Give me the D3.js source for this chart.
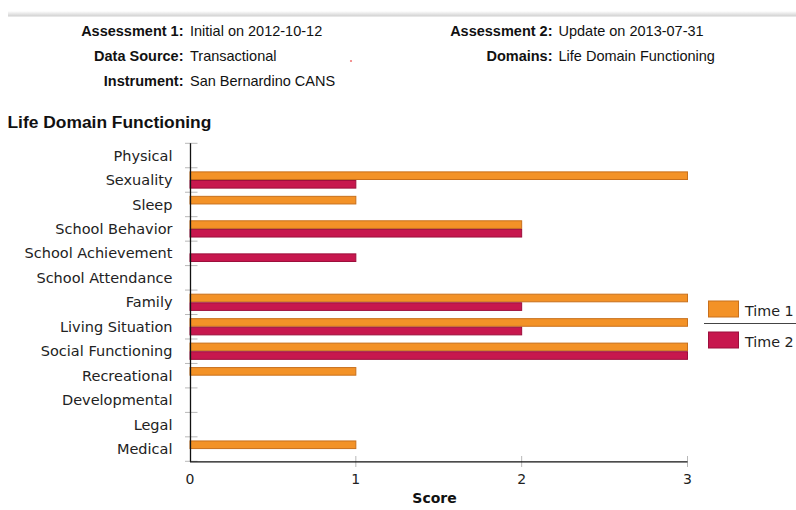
<!DOCTYPE html>
<html>
<head>
<meta charset="utf-8">
<script src="https://cdn.jsdelivr.net/npm/d3@7"></script>
<style>
  html, body { margin: 0; padding: 0; background: #fff; }
  svg { display: block; }
</style>
</head>
<body>
<svg id="chart" width="796" height="510"></svg>
<script>
// Life domain items, listed top to bottom
const categories = [
  "Physical", "Sexuality", "Sleep", "School Behavior", "School Achievement",
  "School Attendance", "Family", "Living Situation", "Social Functioning",
  "Recreational", "Developmental", "Legal", "Medical"
];
// Scores per assessment (null = no rating)
const time1 = [null, 3, 1, 2, null, null, 3, 3, 3, 1, null, null, 1];
const time2 = [null, 1, null, 2, 1, null, 2, 2, 3, null, null, null, null];
const seriesNames = ["Time 1", "Time 2"];
const xTicks = [0, 1, 2, 3];

// Header information
const headerLeft = [
  ["Assessment 1:", "Initial on 2012-10-12"],
  ["Data Source:", "Transactional"],
  ["Instrument:", "San Bernardino CANS"]
];
const headerRight = [
  ["Assessment 2:", "Update on 2013-07-31"],
  ["Domains:", "Life Domain Functioning"]
];
const chartTitle = "Life Domain Functioning";
const xTitle = "Score";

const fills = ["#f39227", "#c7174e"];
const strokes = ["#c8701c", "#9c0f3c"];

const svg = d3.select("#chart");
const arial = "'Liberation Sans', Arial, sans-serif";
const dejavu = "'DejaVu Sans', sans-serif";

// top shadow strip
const defs = svg.append("defs");
const grad = defs.append("linearGradient").attr("id", "topShade")
  .attr("x1", 0).attr("y1", 0).attr("x2", 0).attr("y2", 1);
grad.append("stop").attr("offset", "0%").attr("stop-color", "#ffffff");
grad.append("stop").attr("offset", "100%").attr("stop-color", "#cfcfcf");
svg.append("rect").attr("x", 8).attr("y", 11).attr("width", 788).attr("height", 5.5)
  .attr("fill", "url(#topShade)");

// header rows
const rowY = [36, 61, 86];
function header(rows, labelRight, valueLeft) {
  rows.forEach((r, i) => {
    svg.append("text").attr("x", labelRight).attr("y", rowY[i])
      .attr("text-anchor", "end").attr("font-family", arial)
      .attr("font-weight", "bold").attr("font-size", 14.5).attr("fill", "#111")
      .text(r[0]);
    svg.append("text").attr("x", valueLeft).attr("y", rowY[i])
      .attr("font-family", arial).attr("font-size", 14.5).attr("fill", "#111")
      .text(r[1]);
  });
}
header(headerLeft, 183.5, 190);
header(headerRight, 552.5, 558.5);
svg.append("circle").attr("cx", 351).attr("cy", 61).attr("r", 1.1).attr("fill", "#f07a7a");

// chart title
svg.append("text").attr("x", 7.5).attr("y", 127.5)
  .attr("font-family", arial).attr("font-weight", "bold").attr("font-size", 17.4)
  .attr("fill", "#111").text(chartTitle);

// scales
const plotTop = 143.3, plotBottom = 461.3, plotLeft = 190, plotRight = 687.5;
const x = d3.scaleLinear().domain([0, 3]).range([plotLeft, plotRight]);
const y = d3.scaleBand().domain(categories).range([plotTop, plotBottom]).padding(0);
const ySub = d3.scaleBand().domain(seriesNames).range([0, y.bandwidth()])
  .paddingInner(0).paddingOuter(0.42);

// y boundary ticks
const boundaries = categories.map(c => y(c)).concat([plotBottom]);
svg.append("g").selectAll("line").data(boundaries).join("line")
  .attr("x1", 185).attr("x2", 197.5)
  .attr("y1", d => d).attr("y2", d => d)
  .attr("stroke", "#b8b8b8").attr("stroke-width", 1);

// x ticks
svg.append("g").selectAll("line").data(xTicks.filter(d => d > 0)).join("line")
  .attr("x1", d => x(d)).attr("x2", d => x(d))
  .attr("y1", 456).attr("y2", 467)
  .attr("stroke", "#b8b8b8").attr("stroke-width", 1);

// bars
const seriesData = [time1, time2];
seriesData.forEach((vals, si) => {
  svg.append("g").selectAll("rect")
    .data(categories.map((c, i) => ({ c, v: vals[i] })).filter(d => d.v != null))
    .join("rect")
    .attr("x", x(0))
    .attr("y", d => y(d.c) + ySub(seriesNames[si]) + 0.5)
    .attr("width", d => x(d.v) - x(0))
    .attr("height", ySub.bandwidth() - 1)
    .attr("fill", fills[si])
    .attr("stroke", strokes[si]).attr("stroke-width", 1);
});

// axis lines
svg.append("line").attr("x1", plotLeft + 0.5).attr("x2", plotLeft + 0.5)
  .attr("y1", plotTop).attr("y2", plotBottom + 0.5).attr("stroke", "#111").attr("stroke-width", 1.3);
svg.append("line").attr("x1", plotLeft).attr("x2", plotRight)
  .attr("y1", plotBottom + 0.5).attr("y2", plotBottom + 0.5).attr("stroke", "#111").attr("stroke-width", 1.3);

// category labels
svg.append("g").selectAll("text").data(categories).join("text")
  .attr("x", 172.5)
  .attr("y", d => y(d) + y.bandwidth() / 2)
  .attr("dy", "0.35em")
  .attr("text-anchor", "end")
  .attr("font-family", dejavu).attr("font-size", 14.5).attr("fill", "#222")
  .text(d => d);

// x tick labels
svg.append("g").selectAll("text").data(xTicks).join("text")
  .attr("x", d => x(d)).attr("y", 483.5)
  .attr("text-anchor", "middle")
  .attr("font-family", dejavu).attr("font-size", 14).attr("fill", "#222")
  .text(d => d);

// x title
svg.append("text").attr("x", 434.5).attr("y", 502.5).attr("text-anchor", "middle")
  .attr("font-family", dejavu).attr("font-weight", "bold").attr("font-size", 14)
  .attr("fill", "#111").text(xTitle);

// legend
const lg = svg.append("g");
seriesNames.forEach((s, i) => {
  const yy = 301 + i * 31;
  lg.append("rect").attr("x", 708.5).attr("y", yy).attr("width", 30).attr("height", 16)
    .attr("fill", fills[i]).attr("stroke", strokes[i]).attr("stroke-width", 1);
  lg.append("text").attr("x", 745).attr("y", yy + 14.5)
    .attr("font-family", dejavu).attr("font-size", 14.3).attr("fill", "#222").text(s);
});
lg.append("line").attr("x1", 704).attr("x2", 796).attr("y1", 323.5).attr("y2", 323.5)
  .attr("stroke", "#444").attr("stroke-width", 1);
</script>
</body>
</html>
